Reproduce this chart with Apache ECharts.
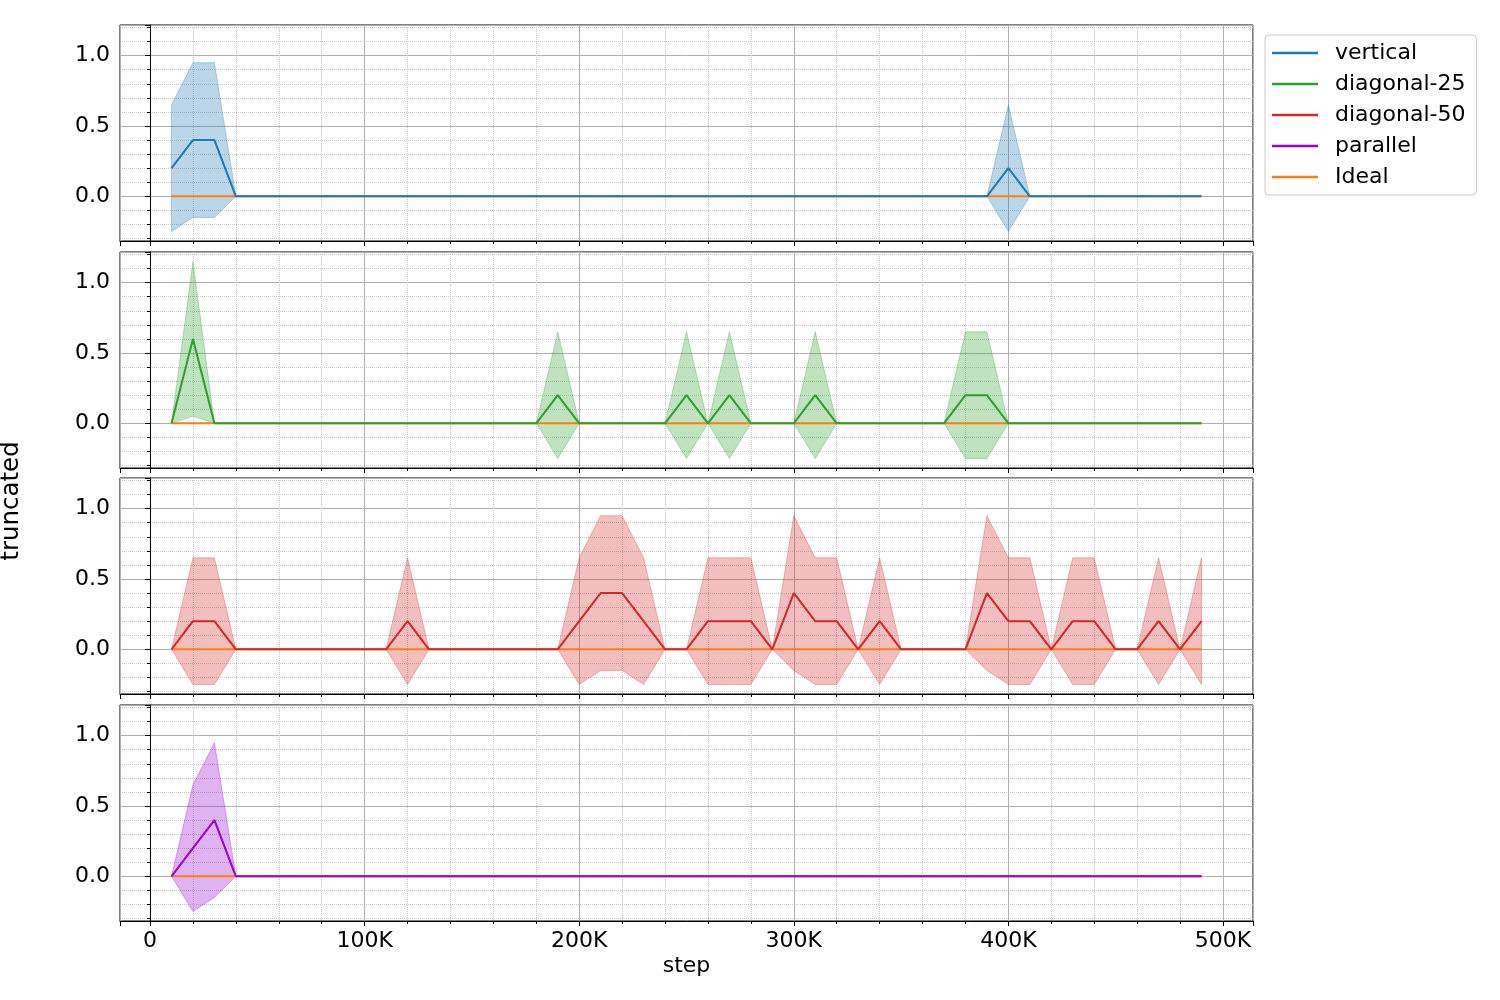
<!DOCTYPE html>
<html>
<head>
<meta charset="utf-8">
<script src="https://cdn.jsdelivr.net/npm/echarts@6/dist/echarts.min.js"></script>
<style>
html, body { margin: 0; background: #fff; }
#chart { width: 1500px; height: 1000px; }
</style>
</head>
<body>
<div id="chart"></div>
<script>
// steps in thousands
var steps = [10, 20, 30, 40, 50, 60, 70, 80, 90, 100,
  110, 120, 130, 140, 150, 160, 170, 180, 190, 200,
  210, 220, 230, 240, 250, 260, 270, 280, 290, 300,
  310, 320, 330, 340, 350, 360, 370, 380, 390, 400,
  410, 420, 430, 440, 450, 460, 470, 480, 490];

var verticalMean = [0.2, 0.4, 0.4, 0, 0, 0, 0, 0, 0, 0,
  0, 0, 0, 0, 0, 0, 0, 0, 0, 0,
  0, 0, 0, 0, 0, 0, 0, 0, 0, 0,
  0, 0, 0, 0, 0, 0, 0, 0, 0, 0.2,
  0, 0, 0, 0, 0, 0, 0, 0, 0];
var verticalStd = [0.45, 0.55, 0.55, 0, 0, 0, 0, 0, 0, 0,
  0, 0, 0, 0, 0, 0, 0, 0, 0, 0,
  0, 0, 0, 0, 0, 0, 0, 0, 0, 0,
  0, 0, 0, 0, 0, 0, 0, 0, 0, 0.45,
  0, 0, 0, 0, 0, 0, 0, 0, 0];

var diag25Mean = [0, 0.6, 0, 0, 0, 0, 0, 0, 0, 0,
  0, 0, 0, 0, 0, 0, 0, 0, 0.2, 0,
  0, 0, 0, 0, 0.2, 0, 0.2, 0, 0, 0,
  0.2, 0, 0, 0, 0, 0, 0, 0.2, 0.2, 0,
  0, 0, 0, 0, 0, 0, 0, 0, 0];
var diag25Std = [0, 0.55, 0, 0, 0, 0, 0, 0, 0, 0,
  0, 0, 0, 0, 0, 0, 0, 0, 0.45, 0,
  0, 0, 0, 0, 0.45, 0, 0.45, 0, 0, 0,
  0.45, 0, 0, 0, 0, 0, 0, 0.45, 0.45, 0,
  0, 0, 0, 0, 0, 0, 0, 0, 0];

var diag50Mean = [0, 0.2, 0.2, 0, 0, 0, 0, 0, 0, 0,
  0, 0.2, 0, 0, 0, 0, 0, 0, 0, 0.2,
  0.4, 0.4, 0.2, 0, 0, 0.2, 0.2, 0.2, 0, 0.4,
  0.2, 0.2, 0, 0.2, 0, 0, 0, 0, 0.4, 0.2,
  0.2, 0, 0.2, 0.2, 0, 0, 0.2, 0, 0.2];
var diag50Std = [0, 0.45, 0.45, 0, 0, 0, 0, 0, 0, 0,
  0, 0.45, 0, 0, 0, 0, 0, 0, 0, 0.45,
  0.55, 0.55, 0.45, 0, 0, 0.45, 0.45, 0.45, 0, 0.55,
  0.45, 0.45, 0, 0.45, 0, 0, 0, 0, 0.55, 0.45,
  0.45, 0, 0.45, 0.45, 0, 0, 0.45, 0, 0.45];

var parallelMean = [0, 0.2, 0.4, 0, 0, 0, 0, 0, 0, 0,
  0, 0, 0, 0, 0, 0, 0, 0, 0, 0,
  0, 0, 0, 0, 0, 0, 0, 0, 0, 0,
  0, 0, 0, 0, 0, 0, 0, 0, 0, 0,
  0, 0, 0, 0, 0, 0, 0, 0, 0];
var parallelStd = [0, 0.45, 0.55, 0, 0, 0, 0, 0, 0, 0,
  0, 0, 0, 0, 0, 0, 0, 0, 0, 0,
  0, 0, 0, 0, 0, 0, 0, 0, 0, 0,
  0, 0, 0, 0, 0, 0, 0, 0, 0, 0,
  0, 0, 0, 0, 0, 0, 0, 0, 0];

var idealValues = [0, 0, 0, 0, 0, 0, 0, 0, 0, 0,
  0, 0, 0, 0, 0, 0, 0, 0, 0, 0,
  0, 0, 0, 0, 0, 0, 0, 0, 0, 0,
  0, 0, 0, 0, 0, 0, 0, 0, 0, 0,
  0, 0, 0, 0, 0, 0, 0, 0, 0];

var seriesNames = ["vertical", "diagonal-25", "diagonal-50", "parallel"];
var seriesMeans = [verticalMean, diag25Mean, diag50Mean, parallelMean];
var seriesStds = [verticalStd, diag25Std, diag50Std, parallelStd];
var seriesColors = [[31, 119, 180], [44, 160, 44], [214, 39, 40], [148, 0, 211]];
var idealColor = "#ff7f0e";

var font = "DejaVu Sans";
var fs = 22;
var gridTops = [25, 252, 478, 705];
var gridH = 216;

function rgba(c, a) {
  return "rgba(" + c[0] + "," + c[1] + "," + c[2] + "," + a + ")";
}

function pairs(ys) {
  return steps.map(function (x, i) { return [x, ys[i]]; });
}

var grids = [], xAxes = [], yAxes = [], series = [];

gridTops.forEach(function (top, p) {
  var last = p === gridTops.length - 1;
  grids.push({
    left: 120, width: 1133, top: top, height: gridH,
    show: true, borderColor: "#000", borderWidth: 1, backgroundColor: "transparent"
  });
  // no interval here: with min fixed, splitNumber keeps ticks on round values
  xAxes.push({
    type: "value", gridIndex: p, min: -14, max: 514, splitNumber: 5,
    axisLine: { show: true, onZero: false, lineStyle: { color: "#000", width: 1 } },
    axisTick: { show: true, length: 5, lineStyle: { color: "#000" } },
    minorTick: { show: true, splitNumber: 5, length: 3, lineStyle: { color: "#000" } },
    splitLine: { show: true, lineStyle: { color: "#b0b0b0", width: 1 } },
    minorSplitLine: { show: true, lineStyle: { color: "#c8c8c8", width: 1, type: "dotted" } },
    axisLabel: {
      show: last, margin: 9, fontFamily: font, fontSize: fs, color: "#000",
      showMinLabel: false, showMaxLabel: false,
      formatter: function (v) { return v === 0 ? "0" : v + "K"; }
    },
    name: last ? "step" : "", nameLocation: "middle", nameGap: 34,
    nameTextStyle: { fontFamily: font, fontSize: fs, color: "#000" }
  });
  yAxes.push({
    type: "value", gridIndex: p, min: -0.3177, max: 1.2178, splitNumber: 3,
    axisLine: { show: true, lineStyle: { color: "#000", width: 1 } },
    axisTick: { show: true, length: 5, lineStyle: { color: "#000" } },
    minorTick: { show: true, splitNumber: 5, length: 3, lineStyle: { color: "#000" } },
    splitLine: { show: true, lineStyle: { color: "#b0b0b0", width: 1 } },
    minorSplitLine: { show: true, lineStyle: { color: "#c8c8c8", width: 1, type: "dotted" } },
    axisLabel: {
      margin: 10, fontFamily: font, fontSize: fs, color: "#000",
      showMinLabel: false, showMaxLabel: false,
      formatter: function (v) { return v.toFixed(1); }
    }
  });

  var mean = seriesMeans[p], std = seriesStds[p], col = seriesColors[p];
  var upper = mean.map(function (m, i) { return m + std[i]; });
  var lower = mean.map(function (m, i) { return m - std[i]; });

  series.push({
    type: "custom", name: seriesNames[p] + " band", xAxisIndex: p, yAxisIndex: p,
    z: 1, silent: true,
    data: steps.map(function (x, i) { return [x, lower[i], upper[i]]; }),
    encode: { x: 0, y: [1, 2] },
    renderItem: function (params, api) {
      if (params.dataIndex !== 0) return null;
      var top = [], bot = [];
      for (var i = 0; i < steps.length; i++) {
        top.push(api.coord([steps[i], upper[i]]));
        bot.unshift(api.coord([steps[i], lower[i]]));
      }
      return {
        type: "polygon",
        shape: { points: top.concat(bot) },
        style: { fill: rgba(col, 0.3), stroke: rgba(col, 0.3), lineWidth: 1 }
      };
    }
  });
  series.push({
    type: "line", name: "Ideal", xAxisIndex: p, yAxisIndex: p, z: 2,
    data: pairs(idealValues), symbol: "none", showSymbol: false,
    lineStyle: { color: idealColor, width: 2 }, itemStyle: { color: idealColor }
  });
  series.push({
    type: "line", name: seriesNames[p], xAxisIndex: p, yAxisIndex: p, z: 3,
    data: pairs(mean), symbol: "none", showSymbol: false,
    lineStyle: { color: rgba(col, 1), width: 2 }, itemStyle: { color: rgba(col, 1) }
  });
});

var myChart = echarts.init(document.getElementById("chart"));
myChart.setOption({
  animation: false,
  backgroundColor: "#fff",
  grid: grids,
  xAxis: xAxes,
  yAxis: yAxes,
  legend: {
    data: ["vertical", "diagonal-25", "diagonal-50", "parallel", "Ideal"],
    orient: "vertical", left: 1265, top: 35,
    icon: "rect", itemWidth: 46, itemHeight: 2.5, itemGap: 9,
    padding: [7, 11, 7, 7],
    borderColor: "#cccccc", borderWidth: 1, borderRadius: 4,
    backgroundColor: "rgba(255,255,255,0.8)",
    textStyle: { fontFamily: font, fontSize: fs, color: "#000", lineHeight: 22, padding: [0, 0, 0, 12] }
  },
  graphic: [{
    type: "text", x: 12, y: 501, rotation: Math.PI / 2,
    style: { text: "truncated", fontFamily: font, fontSize: 24.5, fill: "#000",
      textAlign: "center", textVerticalAlign: "middle" }
  }],
  series: series
});
</script>
</body>
</html>
